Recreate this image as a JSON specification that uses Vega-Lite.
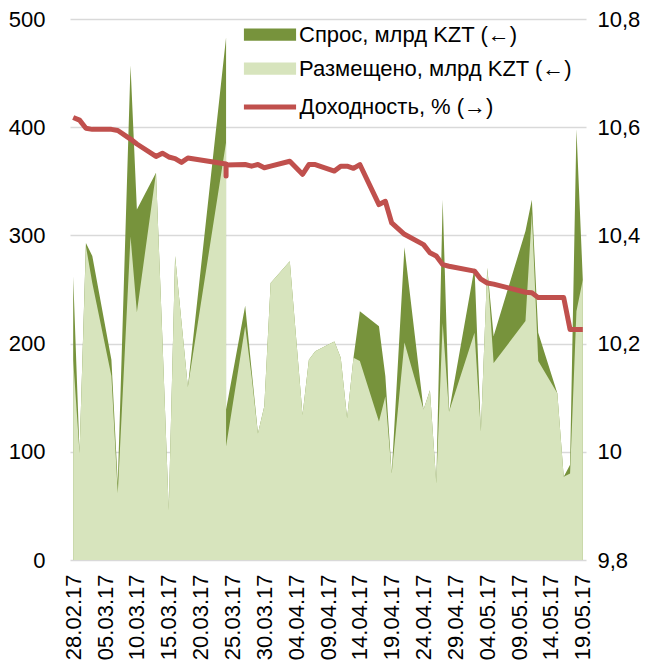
{
  "$schema": "https://vega.github.io/schema/vega-lite/v6.json",
  "width": 516,
  "height": 541,
  "autosize": {"type": "none"},
  "padding": {"left": 70, "top": 19, "right": 67, "bottom": 100},
  "background": "white",
  "config": {
    "font": "Liberation Sans",
    "view": {"stroke": null},
    "axis": {"labelFont": "Liberation Sans", "labelFontSize": 22, "labelColor": "#000000", "ticks": false, "domain": false, "title": null, "labelOverlap": false},
    "axisX": {"labelOverlap": false, "labelBound": false},
    "legend": {"labelFont": "Liberation Sans", "labelFontSize": 22, "labelColor": "#000000", "labelLimit": 400, "padding": 0, "offset": 0, "rowPadding": 5}
  },
  "data": {
    "format": {"parse": {"d": "date:'%Y-%m-%d'"}},
    "values": [
      {"d": "2017-02-28", "demand": 262, "placed": 185, "yield": 10.618},
      {"d": "2017-03-01", "demand": 99, "placed": 99, "yield": 10.613},
      {"d": "2017-03-02", "demand": 293, "placed": 290, "yield": 10.598},
      {"d": "2017-03-03", "demand": 281, "placed": 256, "yield": 10.596},
      {"d": "2017-03-06", "demand": 185, "placed": 170, "yield": 10.596},
      {"d": "2017-03-07", "demand": 71, "placed": 62, "yield": 10.594},
      {"d": "2017-03-09", "demand": 457, "placed": 299, "yield": 10.578},
      {"d": "2017-03-10", "demand": 324, "placed": 229, "yield": 10.569},
      {"d": "2017-03-13", "demand": 358, "placed": 358, "yield": 10.546},
      {"d": "2017-03-14", "demand": 205, "placed": 205, "yield": 10.552},
      {"d": "2017-03-15", "demand": 46, "placed": 46, "yield": 10.545},
      {"d": "2017-03-16", "demand": 281, "placed": 281, "yield": 10.542},
      {"d": "2017-03-17", "demand": 220, "placed": 220, "yield": 10.535},
      {"d": "2017-03-18", "demand": 160, "placed": 160, "yield": 10.543},
      {"d": "2017-03-24", "demand": 483, "placed": 386, "yield": 10.532},
      {"d": "2017-03-24", "demand": 139, "placed": 105, "yield": 10.51},
      {"d": "2017-03-24", "demand": 139, "placed": 105, "yield": 10.53},
      {"d": "2017-03-27", "demand": 235, "placed": 216, "yield": 10.531},
      {"d": "2017-03-28", "demand": 176, "placed": 170, "yield": 10.528},
      {"d": "2017-03-29", "demand": 117, "placed": 117, "yield": 10.531},
      {"d": "2017-03-30", "demand": 142, "placed": 142, "yield": 10.525},
      {"d": "2017-03-31", "demand": 256, "placed": 256, "yield": 10.528},
      {"d": "2017-04-03", "demand": 276, "placed": 276, "yield": 10.537},
      {"d": "2017-04-05", "demand": 134, "placed": 134, "yield": 10.513},
      {"d": "2017-04-06", "demand": 185, "placed": 185, "yield": 10.531},
      {"d": "2017-04-07", "demand": 193, "placed": 193, "yield": 10.531},
      {"d": "2017-04-10", "demand": 202, "placed": 202, "yield": 10.519},
      {"d": "2017-04-11", "demand": 187, "placed": 187, "yield": 10.528},
      {"d": "2017-04-12", "demand": 131, "placed": 131, "yield": 10.528},
      {"d": "2017-04-13", "demand": 187, "placed": 187, "yield": 10.524},
      {"d": "2017-04-14", "demand": 230, "placed": 184, "yield": 10.531},
      {"d": "2017-04-17", "demand": 216, "placed": 128, "yield": 10.457},
      {"d": "2017-04-18", "demand": 170, "placed": 151, "yield": 10.463},
      {"d": "2017-04-19", "demand": 80, "placed": 80, "yield": 10.423},
      {"d": "2017-04-21", "demand": 289, "placed": 201, "yield": 10.402},
      {"d": "2017-04-24", "demand": 139, "placed": 139, "yield": 10.383},
      {"d": "2017-04-25", "demand": 157, "placed": 157, "yield": 10.368},
      {"d": "2017-04-26", "demand": 71, "placed": 71, "yield": 10.362},
      {"d": "2017-04-27", "demand": 333, "placed": 219, "yield": 10.346},
      {"d": "2017-04-28", "demand": 137, "placed": 137, "yield": 10.343},
      {"d": "2017-05-02", "demand": 270, "placed": 210, "yield": 10.334},
      {"d": "2017-05-03", "demand": 119, "placed": 119, "yield": 10.319},
      {"d": "2017-05-04", "demand": 270, "placed": 270, "yield": 10.312},
      {"d": "2017-05-05", "demand": 207, "placed": 182, "yield": 10.31},
      {"d": "2017-05-10", "demand": 304, "placed": 221, "yield": 10.295},
      {"d": "2017-05-11", "demand": 333, "placed": 320, "yield": 10.294},
      {"d": "2017-05-12", "demand": 210, "placed": 184, "yield": 10.285},
      {"d": "2017-05-15", "demand": 154, "placed": 154, "yield": 10.285},
      {"d": "2017-05-16", "demand": 77, "placed": 77, "yield": 10.285},
      {"d": "2017-05-17", "demand": 88, "placed": 80, "yield": 10.226},
      {"d": "2017-05-18", "demand": 398, "placed": 230, "yield": 10.226},
      {"d": "2017-05-19", "demand": 259, "placed": 259, "yield": 10.226}
    ]
  },
  "layer": [
    {
      "layer": [
        {
          "mark": {"type": "area", "opacity": 1},
          "encoding": {
            "x": {
              "field": "d", "type": "temporal",
              "scale": {"domain": [{"year": 2017, "month": 2, "date": 27, "hours": 12}, {"year": 2017, "month": 5, "date": 19, "hours": 12}]},
              "axis": {
                "format": "%d.%m.%y", "labelAngle": 270, "labelPadding": 14, "labelOverlap": false, "labelBound": false, "grid": false, "tickCount": 40,
                "values": [
                  {"year": 2017, "month": 2, "date": 28}, {"year": 2017, "month": 3, "date": 5}, {"year": 2017, "month": 3, "date": 10},
                  {"year": 2017, "month": 3, "date": 15}, {"year": 2017, "month": 3, "date": 20}, {"year": 2017, "month": 3, "date": 25},
                  {"year": 2017, "month": 3, "date": 30}, {"year": 2017, "month": 4, "date": 4}, {"year": 2017, "month": 4, "date": 9},
                  {"year": 2017, "month": 4, "date": 14}, {"year": 2017, "month": 4, "date": 19}, {"year": 2017, "month": 4, "date": 24},
                  {"year": 2017, "month": 4, "date": 29}, {"year": 2017, "month": 5, "date": 4}, {"year": 2017, "month": 5, "date": 9},
                  {"year": 2017, "month": 5, "date": 14}, {"year": 2017, "month": 5, "date": 19}
                ]
              }
            },
            "y": {
              "field": "demand", "type": "quantitative", "stack": null,
              "scale": {"domain": [0, 500], "nice": false},
              "axis": {"orient": "left", "values": [0, 100, 200, 300, 400, 500], "grid": true, "gridColor": "#D9D9D9", "gridWidth": 1.5, "labelPadding": 25}
            },
            "fill": {
              "datum": "Спрос, млрд KZT (←)", "type": "nominal",
              "scale": {
                "domain": ["Спрос, млрд KZT (←)", "Размещено, млрд KZT (←)"],
                "range": ["#77933C", "#D7E4BD"]
              },
              "legend": {
                "orient": "none", "legendX": 182.5, "legendY": -2, "title": null,
                "labelOffset": 11.5, "symbolSize": 1225, "rowPadding": 5,
                "symbolType": "M-1.49,-0.35H1.49V0.35H-1.49Z",
                "symbolStrokeWidth": 0, "symbolOpacity": 1
              }
            }
          }
        },
        {
          "mark": {"type": "area", "opacity": 1},
          "encoding": {
            "x": {"field": "d", "type": "temporal"},
            "y": {"field": "placed", "type": "quantitative", "stack": null},
            "fill": {"datum": "Размещено, млрд KZT (←)", "type": "nominal"}
          }
        }
      ]
    },
    {
      "mark": {"type": "line", "strokeWidth": 5, "strokeJoin": "round", "strokeCap": "butt"},
      "encoding": {
        "x": {"field": "d", "type": "temporal"},
        "y": {
          "field": "yield", "type": "quantitative",
          "scale": {"domain": [9.8, 10.8], "zero": false, "nice": false},
          "axis": {"orient": "right", "values": [9.8, 10, 10.2, 10.4, 10.6, 10.8], "grid": false, "labelPadding": 11,
                   "labelExpr": "replace(format(datum.value, '~g'), '.', ',')"}
        },
        "stroke": {
          "datum": "Доходность, % (→)", "type": "nominal",
          "scale": {"domain": ["Доходность, % (→)"], "range": ["#C0504D"]},
          "legend": {
            "orient": "none", "legendX": 180, "legendY": 68, "title": null,
            "labelOffset": 9.5, "symbolSize": 1225,
            "symbolType": "M-1.49,0H1.49",
            "symbolStrokeWidth": 5, "symbolOpacity": 1, "symbolFillColor": "transparent"
          }
        }
      }
    }
  ],
  "resolve": {"scale": {"y": "independent"}}
}
